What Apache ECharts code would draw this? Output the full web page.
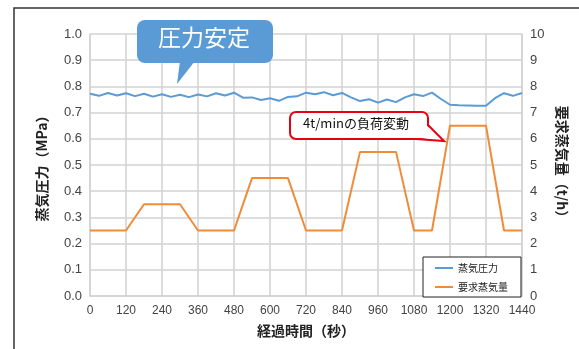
<!DOCTYPE html>
<html>
<head>
<meta charset="utf-8">
<script src="https://cdn.jsdelivr.net/npm/echarts@6/dist/echarts.min.js"></script>
<style>
  html, body { margin: 0; padding: 0; background: #fff; }
  #chart { width: 579px; height: 349px; }
</style>
</head>
<body>
<div id="chart"></div>
<script>
// Elapsed time (s) for the steam pressure samples
const pressureTime = [
  0, 30, 60, 90, 120, 150, 180, 210, 240, 270, 300, 330, 360, 390, 420, 450,
  480, 510, 540, 570, 600, 630, 660, 690, 720, 750, 780, 810, 840, 870, 900, 930,
  960, 990, 1020, 1050, 1080, 1110, 1140, 1170, 1200, 1230, 1260, 1290, 1320, 1350,
  1380, 1410, 1440
];
// Steam pressure (MPa)
const pressure = [
  0.772, 0.764, 0.775, 0.765, 0.774, 0.763, 0.772, 0.761, 0.770, 0.760, 0.768, 0.759, 0.769, 0.762, 0.774, 0.765,
  0.776, 0.757, 0.758, 0.748, 0.755, 0.745, 0.760, 0.762, 0.776, 0.770, 0.778, 0.766, 0.775, 0.758, 0.744, 0.751,
  0.738, 0.750, 0.740, 0.758, 0.770, 0.763, 0.776, 0.752, 0.730, 0.728, 0.727, 0.726, 0.726, 0.755,
  0.774, 0.764, 0.775
];
// Elapsed time (s) at the corners of the demand profile
const demandTime = [0, 120, 180, 300, 360, 480, 540, 660, 720, 840, 900, 1020, 1080, 1140, 1200, 1320, 1380, 1440];
// Requested steam flow (t/h)
const demand = [2.5, 2.5, 3.5, 3.5, 2.5, 2.5, 4.5, 4.5, 2.5, 2.5, 5.5, 5.5, 2.5, 2.5, 6.5, 6.5, 2.5, 2.5];

const seriesNames = ['蒸気圧力', '要求蒸気量'];
const xTicks = { min: 0, max: 1440, interval: 120 };
const leftTicks = { min: 0, max: 1, interval: 0.1 };
const rightTicks = { min: 0, max: 10, interval: 1 };

const FONT = '"Liberation Sans", "Noto Sans CJK JP", sans-serif';
const JP = '"Noto Sans CJK JP", "Liberation Sans", sans-serif';
const gridColor = '#d2d2d2';
const labelColor = '#444';
const calloutRed = '#e60012';
const calloutBlue = '#5b9bd5';

const chart = echarts.init(document.getElementById('chart'), null, { renderer: 'canvas' });

chart.setOption({
  animation: false,
  backgroundColor: '#fff',
  grid: { left: 90, right: 57, top: 34, bottom: 53 },
  xAxis: {
    type: 'value',
    min: xTicks.min, max: xTicks.max, interval: xTicks.interval,
    name: '経過時間（秒）',
    nameLocation: 'middle',
    nameGap: 28,
    nameTextStyle: { fontFamily: JP, fontSize: 14, color: '#222', fontWeight: 'bold' },
    axisLine: { show: true, lineStyle: { color: gridColor, width: 1.5 } },
    axisTick: { show: false },
    axisLabel: {
      fontFamily: FONT, fontSize: 12, color: labelColor, margin: 9,
      formatter: v => String(v)
    },
    splitLine: { show: true, lineStyle: { color: gridColor, width: 1.5 } }
  },
  yAxis: [
    {
      type: 'value',
      position: 'left',
      min: leftTicks.min, max: leftTicks.max, interval: leftTicks.interval,
      name: '蒸気圧力（MPa）',
      nameLocation: 'middle',
      nameRotate: 90,
      nameGap: 41,
      nameTextStyle: { fontFamily: JP, fontSize: 14, color: '#222', fontWeight: 'bold' },
      axisLine: { show: true, lineStyle: { color: gridColor, width: 1.5 } },
      axisTick: { show: false },
      axisLabel: {
        fontFamily: FONT, fontSize: 13, color: labelColor, margin: 8,
        formatter: v => v.toFixed(1)
      },
      splitLine: { show: true, lineStyle: { color: gridColor, width: 1.5 } }
    },
    {
      type: 'value',
      position: 'right',
      min: rightTicks.min, max: rightTicks.max, interval: rightTicks.interval,
      name: '要求蒸気量（t/h）',
      nameLocation: 'middle',
      nameRotate: -90,
      nameGap: 30,
      nameTextStyle: { fontFamily: JP, fontSize: 14, color: '#222', fontWeight: 'bold' },
      axisLine: { show: true, lineStyle: { color: gridColor, width: 1.5 } },
      axisTick: { show: false },
      axisLabel: { fontFamily: FONT, fontSize: 13, color: labelColor, margin: 8 },
      splitLine: { show: false }
    }
  ],
  legend: {
    orient: 'vertical',
    left: 423,
    top: 257,
    data: seriesNames,
    icon: 'rect',
    itemWidth: 18,
    itemHeight: 2,
    itemGap: 7,
    padding: [5, 13, 4, 12],
    borderColor: '#222',
    borderWidth: 1,
    backgroundColor: '#fff',
    textStyle: { fontFamily: JP, fontSize: 10, color: '#222', lineHeight: 12 }
  },
  series: [
    {
      name: seriesNames[0],
      type: 'line',
      yAxisIndex: 0,
      data: pressureTime.map((t, i) => [t, pressure[i]]),
      showSymbol: false,
      symbol: 'none',
      lineStyle: { color: '#5b9bd5', width: 2 },
      itemStyle: { color: '#5b9bd5' },
      z: 3
    },
    {
      name: seriesNames[1],
      type: 'line',
      yAxisIndex: 1,
      data: demandTime.map((t, i) => [t, demand[i]]),
      showSymbol: false,
      symbol: 'none',
      lineStyle: { color: '#ef8c3a', width: 2 },
      itemStyle: { color: '#ef8c3a' },
      z: 3
    }
  ],
  graphic: [
    // outer panel frame
    {
      type: 'rect',
      shape: { x: 14, y: 8, width: 700, height: 500 },
      style: { fill: 'none', stroke: '#333', lineWidth: 1.5 },
      silent: true,
      z: 0
    },
    // "stable pressure" speech bubble: body + pointer
    {
      type: 'rect',
      shape: { x: 137, y: 20, width: 136, height: 43, r: 8 },
      style: { fill: calloutBlue },
      z: 10
    },
    {
      type: 'polygon',
      shape: { points: [[180, 61], [195, 61], [177, 84]] },
      style: { fill: calloutBlue },
      z: 10
    },
    {
      type: 'text',
      left: 158,
      top: 26,
      style: { text: '圧力安定', fill: '#fff', font: 'normal 23px ' + JP },
      z: 11
    },
    // "load change" speech bubble: body, pointer fill, pointer outline
    {
      type: 'rect',
      shape: { x: 290, y: 112, width: 138, height: 27, r: 6 },
      style: { fill: '#fff', stroke: calloutRed, lineWidth: 2 },
      z: 10
    },
    {
      type: 'polygon',
      shape: { points: [[426, 125], [444, 141], [416, 137.5]] },
      style: { fill: '#fff' },
      z: 11
    },
    {
      type: 'polyline',
      shape: { points: [[428, 125], [444, 141], [416, 139]] },
      style: { fill: 'none', stroke: calloutRed, lineWidth: 2 },
      z: 11
    },
    {
      type: 'text',
      left: 303,
      top: 117,
      style: { text: '4t/minの負荷変動', fill: '#111', font: '13px ' + JP },
      z: 12
    }
  ]
});
</script>
</body>
</html>
